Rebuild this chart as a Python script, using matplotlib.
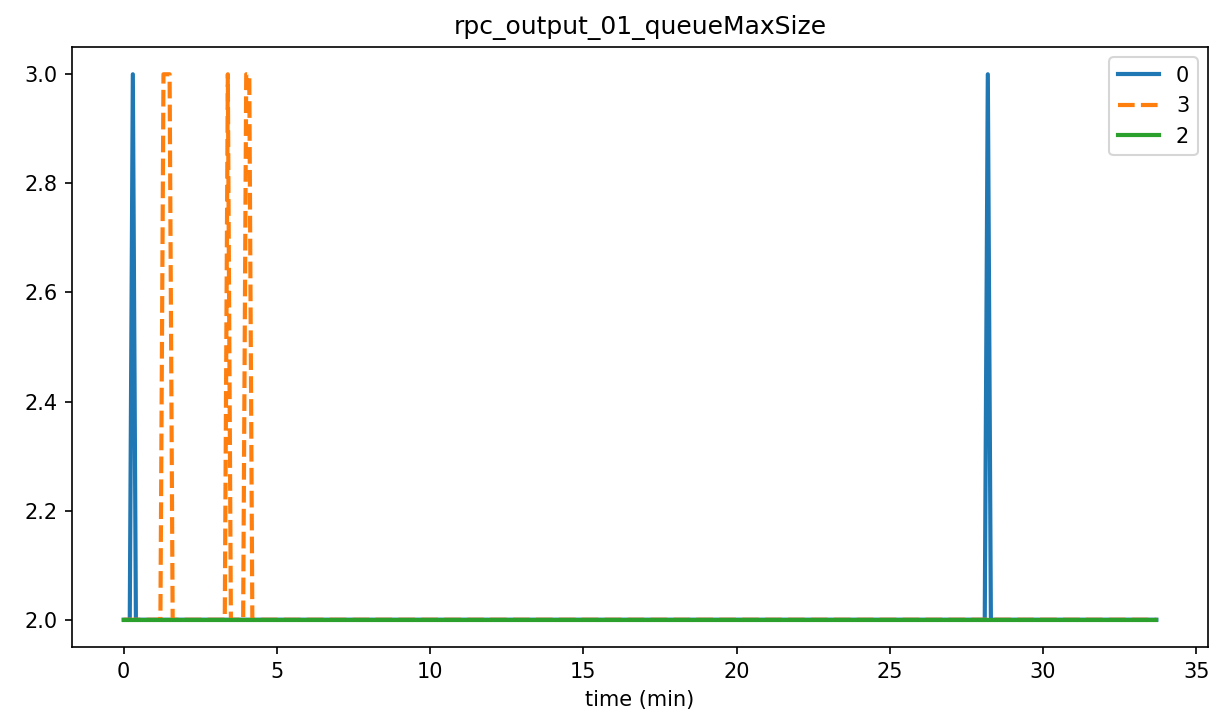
import numpy as np
import matplotlib
matplotlib.use("Agg")
import matplotlib.pyplot as plt

# ---- data ----
t_start, t_end, t_step = 0.0, 33.7, 0.1          # sample times (min)
baseline = 2.0
series_names = ["0", "3", "2"]
spike_times = {                                   # times where value == 3
    "0": [0.3, 28.2],
    "3": [1.3, 1.4, 1.5, 3.4, 4.0, 4.1],
    "2": [],
}
spike_value = 3.0
title = "rpc_output_01_queueMaxSize"
xlabel = "time (min)"

times = np.round(np.arange(t_start, t_end + t_step / 2, t_step), 1)

def build(name):
    v = np.full(times.shape, baseline)
    for s in spike_times[name]:
        v[np.isclose(times, s)] = spike_value
    return v

colors = {"0": "#1f77b4", "3": "#ff7f0e", "2": "#2ca02c"}

fig = plt.figure(figsize=(1214 / 150, 719 / 150), dpi=150)
ax = fig.add_axes([72 / 1214, 1 - 647 / 719, (1208 - 72) / 1214, (647 - 47) / 719])

for name in series_names:
    kw = {}
    if name == "3":
        kw["dashes"] = (4, 1.5)
    ax.plot(times, build(name), color=colors[name], lw=2.0, label=name, **kw)

ax.set_title(title)
ax.set_xlabel(xlabel)
ax.set_xticks([0, 5, 10, 15, 20, 25, 30, 35])
ax.legend(loc="upper right")
fig.savefig("out.png", dpi=150)
